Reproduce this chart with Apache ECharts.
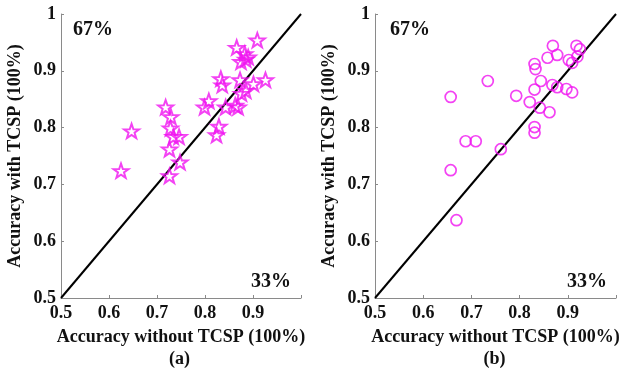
<!DOCTYPE html>
<html>
<head>
<meta charset="UTF-8">
<title>Accuracy with / without TCSP</title>
<script src="https://cdn.jsdelivr.net/npm/echarts@6/dist/echarts.min.js"></script>
<style>
    body { margin: 0; background: #fff; }
    #chart { width: 624px; height: 372px; }
</style>
</head>
<body>
<div id="chart"></div>
<script>
    // (a) star markers: accuracy without TCSP / with TCSP
    const aWithout = [0.909, 0.866, 0.883, 0.890, 0.885, 0.875, 0.926, 0.901, 0.873, 0.876, 0.885,
                      0.833, 0.836, 0.808, 0.799, 0.843, 0.863, 0.869, 0.718, 0.729, 0.647, 0.728,
                      0.734, 0.746, 0.829, 0.824, 0.726, 0.748, 0.625, 0.726];
    const aWith    = [0.954, 0.941, 0.930, 0.924, 0.920, 0.916, 0.884, 0.877, 0.884, 0.860, 0.865,
                      0.886, 0.875, 0.847, 0.836, 0.836, 0.839, 0.836, 0.836, 0.819, 0.794, 0.799,
                      0.784, 0.784, 0.802, 0.787, 0.762, 0.739, 0.724, 0.715];

    // (b) circle markers
    const bWithout = [0.869, 0.918, 0.925, 0.920, 0.878, 0.858, 0.902, 0.909, 0.831, 0.833, 0.734,
                      0.844, 0.868, 0.878, 0.897, 0.909, 0.831, 0.657, 0.793, 0.821, 0.842, 0.862,
                      0.831, 0.831, 0.688, 0.709, 0.761, 0.657, 0.669];
    const bWith    = [0.944, 0.944, 0.938, 0.925, 0.928, 0.923, 0.919, 0.914, 0.912, 0.903, 0.882,
                      0.882, 0.875, 0.871, 0.868, 0.862, 0.867, 0.854, 0.856, 0.845, 0.835, 0.827,
                      0.801, 0.791, 0.776, 0.776, 0.762, 0.725, 0.637];

    const diagonal = [[0.5, 0.5], [1, 1]];
    const panelTags = ['(a)', '(b)'];
    const upperPct = '67%';
    const lowerPct = '33%';

    const pink = '#f014f0';
    const font = 'Liberation Serif';
    const starPath = 'path://M50 0 L61.76 33.82 L97.55 34.55 L69.02 56.18 L79.39 90.45 L50 70 L20.61 90.45 L30.98 56.18 L2.45 34.55 L38.24 33.82 Z';

    function zip(xs, ys) {
        return xs.map((x, i) => [x, ys[i]]);
    }

    function axisCommon(name, isX) {
        return {
            type: 'value',
            min: 0.5,
            max: 1,
            interval: 0.1,
            name: name,
            nameLocation: 'middle',
            nameGap: isX ? 30 : 37,
            nameTextStyle: { fontFamily: font, fontWeight: 'bold', fontSize: 18, color: '#111' },
            axisLine: { show: true, lineStyle: { color: '#8a8a8a', width: 1 } },
            axisTick: { show: true, inside: true, length: 3, lineStyle: { color: '#8a8a8a' } },
            axisLabel: {
                fontFamily: font, fontWeight: 'bold', fontSize: 18, color: '#111',
                margin: isX ? 6 : 5,
                formatter: v => (isX && v > 0.99) ? '' : String(+v.toFixed(1))
            },
            splitLine: { show: false }
        };
    }

    const grids = [
        { left: 61, top: 14, width: 240, height: 284 },
        { left: 375, top: 14, width: 241, height: 284 }
    ];

    const chart = echarts.init(document.getElementById('chart'));
    chart.setOption({
        animation: false,
        backgroundColor: '#fff',
        grid: grids,
        xAxis: [0, 1].map(i => Object.assign(axisCommon('Accuracy without TCSP (100%)', true), { gridIndex: i })),
        yAxis: [0, 1].map(i => Object.assign(axisCommon('Accuracy with TCSP (100%)', false), { gridIndex: i, nameRotate: 90 })),
        series: [
            {
                type: 'line', xAxisIndex: 0, yAxisIndex: 0, data: diagonal,
                symbol: 'none', lineStyle: { color: '#000', width: 2 }, z: 1
            },
            {
                type: 'line', xAxisIndex: 1, yAxisIndex: 1, data: diagonal,
                symbol: 'none', lineStyle: { color: '#000', width: 2 }, z: 1
            },
            {
                type: 'scatter', xAxisIndex: 0, yAxisIndex: 0, data: zip(aWithout, aWith),
                symbol: starPath, symbolSize: 15, symbolKeepAspect: true,
                itemStyle: { color: 'rgba(0,0,0,0)', borderColor: pink, borderWidth: 2 }, z: 3
            },
            {
                type: 'scatter', xAxisIndex: 1, yAxisIndex: 1, data: zip(bWithout, bWith),
                symbol: 'circle', symbolSize: 11,
                itemStyle: { color: 'rgba(0,0,0,0)', borderColor: pink, borderWidth: 1.7 }, z: 3
            }
        ],
        graphic: grids.flatMap((g, i) => {
            const textStyle = { fontFamily: font, fontWeight: 'bold', fontSize: 20, fill: '#111' };
            return [
                { type: 'text', left: g.left + 12 + (i ? 3 : 0), top: 20, style: Object.assign({ text: upperPct }, textStyle) },
                { type: 'text', left: g.left + 190 + (i ? 2 : 0), top: 272, style: Object.assign({ text: lowerPct }, textStyle) },
                { type: 'text', left: g.left + g.width / 2 - 12, top: 350, style: Object.assign({ text: panelTags[i] }, textStyle, { fontSize: 18 }) }
            ];
        })
    });
</script>
</body>
</html>
